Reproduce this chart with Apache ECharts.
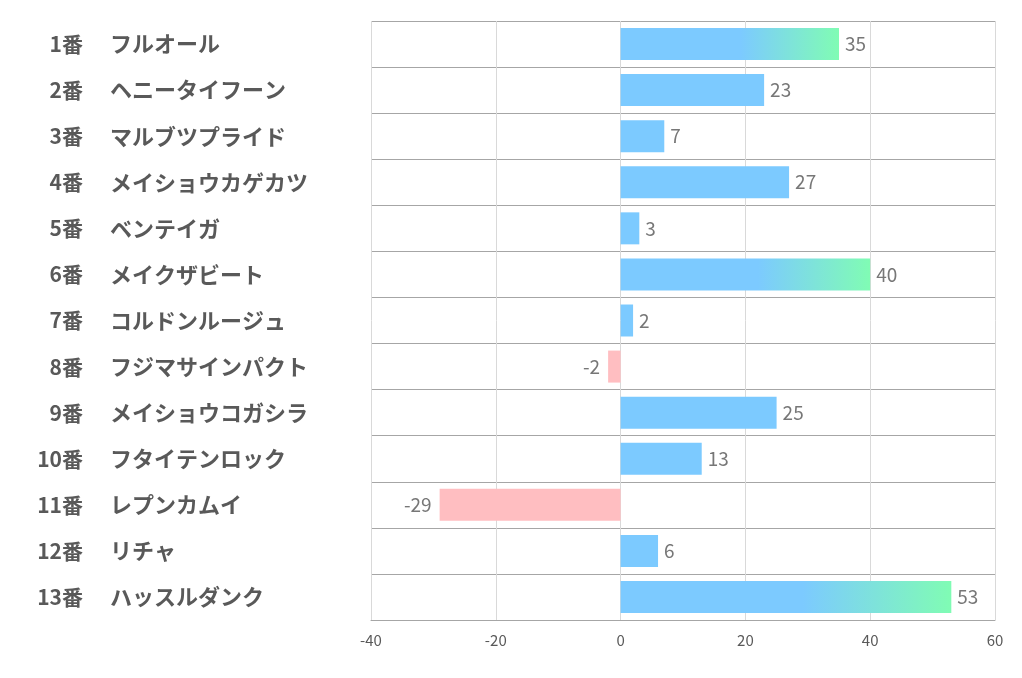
<!DOCTYPE html>
<html><head><meta charset="utf-8">
<script src="https://cdn.jsdelivr.net/npm/echarts@6/dist/echarts.min.js"></script>
<style>html,body{margin:0;padding:0;background:#fff}#c{width:1022px;height:678px}</style>
</head><body><div id="c"></div>
<script>
const numbers = ['1番','2番','3番','4番','5番','6番','7番','8番','9番','10番','11番','12番','13番'];
const names = ['フルオール','ヘニータイフーン','マルブツプライド','メイショウカゲカツ','ベンテイガ','メイクザビート','コルドンルージュ','フジマサインパクト','メイショウコガシラ','フタイテンロック','レプンカムイ','リチャ','ハッスルダンク'];
const values = [35, 23, 7, 27, 3, 40, 2, -2, 25, 13, -29, 6, 53];
const xTicks = [-40, -20, 0, 20, 40, 60];

const BLUE = '#7ccaff', GREEN = '#80fcb4', PINK = '#ffbec1';
const font = '"Noto Sans CJK JP", "Noto Sans", sans-serif';
const chart = echarts.init(document.getElementById('c'));
chart.setOption({
  animation: false,
  grid: {left: 371, right: 27, top: 21, bottom: 58},
  xAxis: {
    type: 'value', min: xTicks[0], max: xTicks[xTicks.length - 1], interval: 20,
    axisLine: {show: true, lineStyle: {color: '#a6a6a6'}},
    axisTick: {show: false},
    axisLabel: {color: '#595959', fontSize: 15, fontFamily: font, margin: 13},
    splitLine: {show: true, lineStyle: {color: '#d9d9d9'}}
  },
  yAxis: [{
    type: 'category', data: numbers, inverse: true,
    axisLine: {show: false}, axisTick: {show: false},
    splitLine: {show: true, lineStyle: {color: '#a6a6a6'}},
    axisLabel: {align: 'right', margin: 288, fontSize: 21, fontWeight: 'bold', color: '#595959', fontFamily: font}
  }, {
    type: 'category', data: names, inverse: true, position: 'left',
    axisLine: {show: false}, axisTick: {show: false}, splitLine: {show: false},
    axisLabel: {align: 'left', margin: 261, fontSize: 22, fontWeight: 'bold', color: '#595959', fontFamily: font}
  }],
  series: [{
    type: 'bar', barWidth: 32, yAxisIndex: 0,
    data: values.map(v => {
      let color = v < 0 ? PINK : BLUE;
      if (v >= 30) color = new echarts.graphic.LinearGradient(0, 0, 1, 0, [
        {offset: 0, color: BLUE}, {offset: 0.55, color: BLUE}, {offset: 1, color: GREEN}]);
      return {value: v, itemStyle: {color: color},
        label: {position: v < 0 ? 'left' : 'right', distance: v < 0 ? 8 : 6}};
    }),
    label: {show: true, color: '#777', fontSize: 19, fontFamily: font}
  }]
});
</script></body></html>
